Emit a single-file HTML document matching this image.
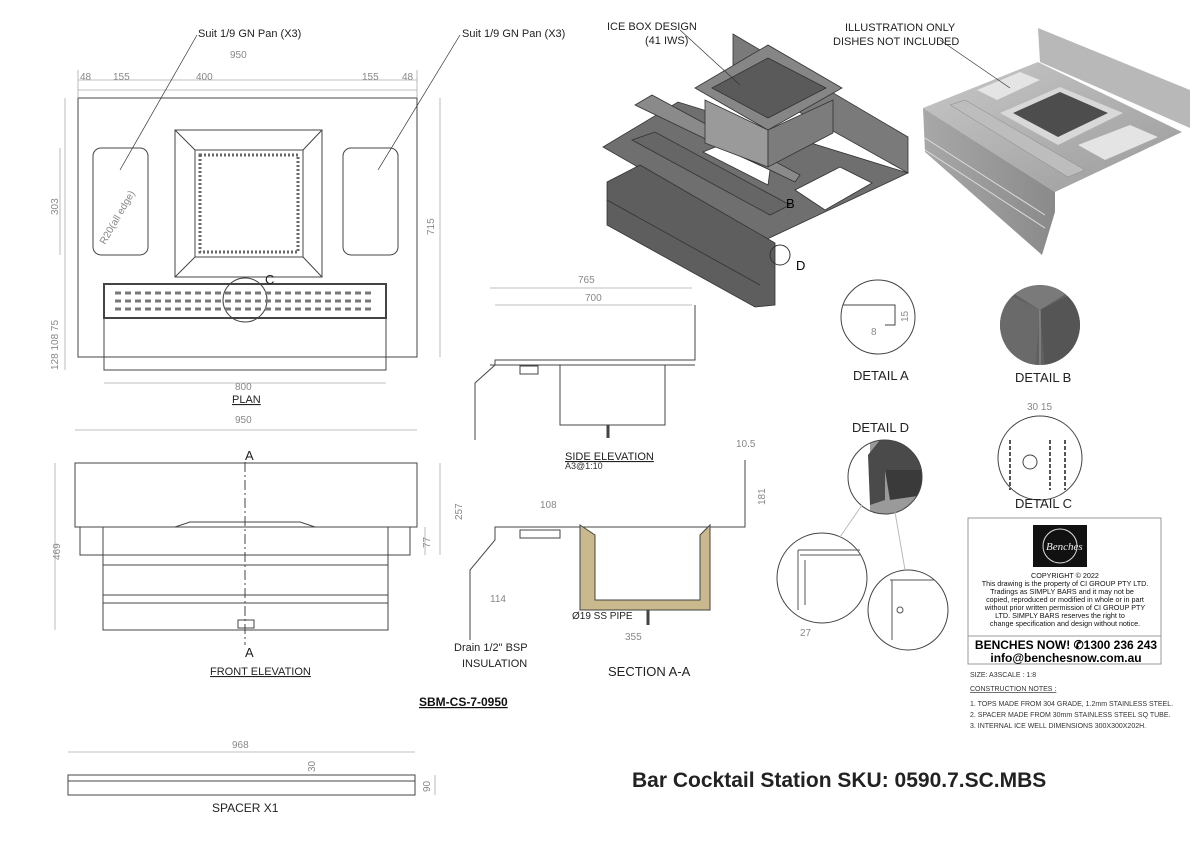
<!DOCTYPE html>
<html><head><meta charset="utf-8"><style>
body{margin:0;background:#fff}
svg{display:block;font-family:"Liberation Sans",sans-serif}
.d{fill:#888;font-size:10px}
.l{fill:#222;font-size:11px}
</style></head><body>
<svg width="1200" height="848" viewBox="0 0 1200 848" xmlns="http://www.w3.org/2000/svg">
<defs>
<linearGradient id="ph" x1="0" y1="0" x2="1" y2="1"><stop offset="0" stop-color="#c8c8c8"/><stop offset="1" stop-color="#9a9a9a"/></linearGradient>
<linearGradient id="pf" x1="0" y1="0" x2="1" y2="0"><stop offset="0" stop-color="#a8a8a8"/><stop offset="1" stop-color="#8a8a8a"/></linearGradient>
<clipPath id="cb"><circle cx="1040" cy="325" r="40"/></clipPath>
<clipPath id="cd"><circle cx="885" cy="477" r="37"/></clipPath>
</defs>
<rect width="1200" height="848" fill="#fff"/>
<g fill="none" stroke="#444" stroke-width="1">
<rect x="78" y="98" width="339" height="259"/>
<rect x="93" y="148" width="55" height="107" rx="8"/>
<rect x="343" y="148" width="55" height="107" rx="8"/>
<rect x="175" y="130" width="147" height="147"/>
<rect x="195" y="150" width="108" height="107"/>
<line x1="175" y1="130" x2="195" y2="150"/><line x1="322" y1="130" x2="303" y2="150"/>
<line x1="175" y1="277" x2="195" y2="257"/><line x1="322" y1="277" x2="303" y2="257"/>
<rect x="104" y="284" width="282" height="34" stroke-width="2"/>
<rect x="104" y="318" width="282" height="52"/>
<circle cx="245" cy="300" r="22"/>
</g>
<rect x="200" y="155" width="98" height="97" fill="none" stroke="#666" stroke-dasharray="2 2" stroke-width="3"/>
<g stroke="#777" stroke-width="3" stroke-dasharray="6 4">
<line x1="115" y1="293" x2="375" y2="293"/><line x1="115" y1="301" x2="375" y2="301"/><line x1="115" y1="309" x2="375" y2="309"/>
</g>
<g stroke="#aaa" stroke-width="0.8" fill="none">
<line x1="78" y1="80" x2="417" y2="80"/><line x1="78" y1="90" x2="417" y2="90"/>
<line x1="78" y1="70" x2="78" y2="98"/><line x1="417" y1="70" x2="417" y2="98"/>
<line x1="104" y1="383" x2="386" y2="383"/>
<line x1="440" y1="98" x2="440" y2="357"/>
<line x1="65" y1="98" x2="65" y2="370"/>
<line x1="60" y1="148" x2="60" y2="255"/>
</g>
<g stroke="#333" stroke-width="0.7"><line x1="197" y1="35" x2="120" y2="170"/><line x1="460" y1="35" x2="378" y2="170"/></g>
<text class="d" x="230" y="58">950</text>
<text class="d" x="80" y="80">48</text><text class="d" x="113" y="80">155</text><text class="d" x="196" y="80">400</text><text class="d" x="362" y="80">155</text><text class="d" x="402" y="80">48</text>
<text class="d" x="235" y="390">800</text>
<text class="d" transform="translate(434,235) rotate(-90)">715</text>
<text class="d" transform="translate(58,215) rotate(-90)">303</text>
<text class="d" transform="translate(58,370) rotate(-90)">128 108 75</text>
<text class="d" transform="translate(105,245) rotate(-60)">R20(all edge)</text>
<text class="l" x="198" y="37">Suit 1/9 GN Pan (X3)</text>
<text class="l" x="462" y="37">Suit 1/9 GN Pan (X3)</text>
<text x="265" y="284" style="font-size:13px" fill="#222">C</text>
<text class="l" x="232" y="403" text-decoration="underline">PLAN</text>

<g fill="none" stroke="#444">
<rect x="75" y="463" width="342" height="64"/>
<rect x="80" y="527" width="330" height="28"/>
<rect x="103" y="527" width="285" height="103"/>
<line x1="103" y1="565" x2="388" y2="565"/><line x1="103" y1="595" x2="388" y2="595"/><line x1="103" y1="603" x2="388" y2="603"/>
<line x1="245" y1="462" x2="245" y2="645" stroke-dasharray="10 3 2 3"/>
<rect x="238" y="620" width="16" height="8"/>
<path d="M175,527 L190,522 L300,522 L315,527"/>
</g>
<g stroke="#aaa" stroke-width="0.8"><line x1="75" y1="430" x2="417" y2="430"/><line x1="440" y1="463" x2="440" y2="555"/><line x1="55" y1="463" x2="55" y2="630"/><line x1="425" y1="527" x2="425" y2="555"/></g>
<text class="d" x="235" y="423">950</text>
<text class="d" transform="translate(462,520) rotate(-90)">257</text>
<text class="d" transform="translate(60,560) rotate(-90)">469</text>
<text class="d" transform="translate(430,548) rotate(-90)">77</text>
<text x="245" y="460" style="font-size:13px" fill="#222">A</text>
<text x="245" y="657" style="font-size:13px" fill="#222">A</text>
<text class="l" x="210" y="675" text-decoration="underline">FRONT ELEVATION</text>
<text x="419" y="706" style="font-size:12px;font-weight:bold" fill="#111" text-decoration="underline">SBM-CS-7-0950</text>

<g fill="none" stroke="#444"><rect x="68" y="775" width="347" height="20"/><line x1="68" y1="781" x2="415" y2="781"/></g>
<g stroke="#aaa" stroke-width="0.8"><line x1="68" y1="752" x2="415" y2="752"/><line x1="435" y1="775" x2="435" y2="795"/></g>
<text class="d" x="232" y="748">968</text><text class="d" transform="translate(315,772) rotate(-90)">30</text><text class="d" transform="translate(430,792) rotate(-90)">90</text>
<text class="l" x="212" y="812" style="font-size:12px">SPACER X1</text>

<g fill="none" stroke="#444">
<polyline points="475,440 475,383 495,365 495,360 695,360 695,305"/>
<line x1="490" y1="365" x2="695" y2="365"/>
<rect x="560" y="365" width="105" height="60"/>
<line x1="608" y1="425" x2="608" y2="438" stroke-width="3"/>
<rect x="520" y="366" width="18" height="8"/>
</g>
<g stroke="#aaa" stroke-width="0.8"><line x1="490" y1="288" x2="692" y2="288"/><line x1="495" y1="305" x2="692" y2="305"/></g>
<text class="d" x="578" y="283">765</text><text class="d" x="585" y="301">700</text>
<text class="l" x="565" y="460" text-decoration="underline">SIDE ELEVATION</text>
<text class="d" x="565" y="469" style="font-size:9px;fill:#333">A3@1:10</text>

<g fill="none" stroke="#444">
<polyline points="470,640 470,570 495,540 495,527 745,527 745,460"/>
<rect x="520" y="530" width="40" height="8"/>
<line x1="648" y1="610" x2="648" y2="625" stroke-width="3"/>
</g>
<path d="M580,525 L595,535 L595,600 L700,600 L700,535 L710,525 L710,610 L580,610 Z" fill="#c9b98c" stroke="#444"/>
<text class="d" x="540" y="508">108</text><text class="d" x="490" y="602">114</text><text class="d" x="625" y="640">355</text><text class="d" x="736" y="447">10.5</text>
<text class="d" transform="translate(765,505) rotate(-90)">181</text>
<text class="l" x="572" y="619" style="font-size:10px">Ø19 SS PIPE</text>
<text class="l" x="454" y="651">Drain 1/2" BSP</text>
<text class="l" x="462" y="667">INSULATION</text>
<text class="l" x="608" y="676" style="font-size:13px">SECTION A-A</text>

<g stroke="#333" stroke-width="0.8">
<polygon points="733,34 908,137 908,173 733,75" fill="#7a7a7a"/>
<polygon points="603,147 678,102 908,173 765,240" fill="#6f6f6f"/>
<polygon points="703,152 718,146 770,170 768,185" fill="#fff"/>
<polygon points="795,190 840,167 872,183 825,210" fill="#fff"/>
<polygon points="607,182 640,165 775,243 775,305 755,307 607,225" fill="#5e5e5e"/>
<polygon points="632,140 655,132 790,205 770,215" fill="#666"/>
<line x1="607" y1="200" x2="760" y2="285"/>
<polygon points="635,105 652,95 800,175 795,182" fill="#8a8a8a"/>
<polygon points="705,143 705,100 768,130 768,167" fill="#9a9a9a"/>
<polygon points="768,130 833,100 833,133 768,167" fill="#7c7c7c"/>
<polygon points="695,88 768,45 842,88 768,130" fill="#868686"/>
<polygon points="712,88 768,58 826,88 768,118" fill="#5a5a5a"/>
</g>
<text class="l" x="607" y="30">ICE BOX DESIGN</text><text class="l" x="645" y="44">(41 IWS)</text>
<line x1="680" y1="30" x2="740" y2="85" stroke="#333" stroke-width="0.7"/>
<text x="786" y="208" style="font-size:13px">B</text><text x="796" y="270" style="font-size:13px">D</text>
<circle cx="780" cy="255" r="10" fill="none" stroke="#333"/>

<polygon points="1038,28 1190,90 1190,128 1040,62" fill="#b8b8b8"/>
<polygon points="923,108 1038,62 1182,132 1055,192" fill="url(#ph)"/>
<polygon points="923,108 1055,192 1055,212 1042,255 925,152" fill="url(#pf)"/>
<line x1="925" y1="138" x2="1045" y2="215" stroke="#ddd"/>
<line x1="925" y1="150" x2="1045" y2="228" stroke="#ddd"/>
<polygon points="1000,113 1060,87 1123,113 1058,145" fill="#d8d8d8"/>
<polygon points="1013,113 1060,92 1108,113 1058,137" fill="#4d4d4d"/>
<polygon points="950,105 965,100 1085,170 1068,177" fill="#bdbdbd" stroke="#888" stroke-width="0.5"/>
<polygon points="977,90 1020,72 1040,80 997,100" fill="#e4e4e4"/>
<polygon points="1078,145 1130,125 1158,137 1105,160" fill="#e4e4e4"/>
<text class="l" x="845" y="31">ILLUSTRATION ONLY</text><text class="l" x="833" y="45">DISHES NOT INCLUDED</text>
<line x1="940" y1="40" x2="1010" y2="88" stroke="#333" stroke-width="0.7"/>

<g fill="none" stroke="#444">
<circle cx="878" cy="317" r="37"/>
<polyline points="843,305 895,305 895,325 885,325"/>
<circle cx="1040" cy="458" r="42"/>
<circle cx="1030" cy="462" r="7"/>
<circle cx="822" cy="578" r="45"/>
<circle cx="908" cy="610" r="40"/>
</g>
<g clip-path="url(#cb)">
<rect x="995" y="280" width="90" height="90" fill="#606060"/>
<polygon points="1040,310 1000,290 1000,370 1035,370" fill="#6a6a6a"/>
<polygon points="1040,310 1080,290 1080,370 1045,370" fill="#555"/>
<polygon points="1040,310 1000,285 1080,285" fill="#7a7a7a"/>
<line x1="1040" y1="310" x2="1040" y2="370" stroke="#999"/>
</g>
<g clip-path="url(#cd)">
<rect x="845" y="437" width="80" height="80" fill="#fff"/>
<rect x="870" y="437" width="60" height="80" fill="#9a9a9a"/>
<polygon points="868,455 880,440 925,440 925,470 885,470 885,500 870,505" fill="#4a4a4a"/>
<polygon points="885,470 925,470 925,495 890,500" fill="#3a3a3a"/>
</g>
<circle cx="885" cy="477" r="37" fill="none" stroke="#444"/>
<g stroke="#bbb"><line x1="862" y1="505" x2="840" y2="537"/><line x1="895" y1="512" x2="905" y2="570"/></g>
<g stroke="#555" stroke-width="2" stroke-dasharray="4 2"><line x1="1010" y1="440" x2="1010" y2="490"/><line x1="1050" y1="440" x2="1050" y2="490"/><line x1="1065" y1="440" x2="1065" y2="490"/></g>
<g fill="none" stroke="#555"><polyline points="798,550 860,550"/><polyline points="800,555 860,555"/><line x1="798" y1="550" x2="798" y2="610"/><line x1="805" y1="560" x2="805" y2="605"/><polyline points="890,580 935,580"/><line x1="892" y1="580" x2="892" y2="640"/><circle cx="900" cy="610" r="3"/></g>
<text class="l" x="853" y="380" style="font-size:13px">DETAIL A</text>
<text class="l" x="1015" y="382" style="font-size:13px">DETAIL B</text>
<text class="l" x="852" y="432" style="font-size:13px">DETAIL D</text>
<text class="l" x="1015" y="508" style="font-size:13px">DETAIL C</text>
<text class="d" x="1027" y="410">30 15</text>
<text class="d" x="871" y="335">8</text><text class="d" transform="translate(908,322) rotate(-90)">15</text>
<text class="d" x="800" y="636">27</text>

<rect x="968" y="518" width="193" height="146" fill="none" stroke="#999"/>
<line x1="968" y1="636" x2="1161" y2="636" stroke="#999"/>
<rect x="1033" y="525" width="54" height="42" fill="#111"/>
<circle cx="1060" cy="546" r="17" fill="none" stroke="#ddd"/>
<text x="1046" y="550" fill="#eee" style="font-family:'Liberation Serif',serif;font-style:italic;font-size:11px">Benches</text>
<g font-size="7.2" fill="#111" text-anchor="middle">
<text x="1065" y="578">COPYRIGHT © 2022</text>
<text x="1065" y="586">This drawing is the property of CI GROUP PTY LTD.</text>
<text x="1062" y="594">Tradings as SIMPLY BARS and it may not be</text>
<text x="1065" y="602">copied, reproduced or modified in whole or in part</text>
<text x="1065" y="610">without prior written permission of CI GROUP PTY</text>
<text x="1060" y="618">LTD. SIMPLY BARS reserves the right to</text>
<text x="1065" y="626">change specification and design without notice.</text>
</g>
<text x="1066" y="649" text-anchor="middle" style="font-size:12px;font-weight:bold">BENCHES NOW!  ✆1300 236 243</text>
<text x="1066" y="662" text-anchor="middle" style="font-size:12px;font-weight:bold">info@benchesnow.com.au</text>
<g font-size="7" fill="#333">
<text x="970" y="677">SIZE: A3SCALE : 1:8</text>
<text x="970" y="691" text-decoration="underline">CONSTRUCTION NOTES :</text>
<text x="970" y="706">1. TOPS MADE FROM 304 GRADE, 1.2mm STAINLESS STEEL.</text>
<text x="970" y="717">2. SPACER MADE FROM 30mm STAINLESS STEEL SQ TUBE.</text>
<text x="970" y="728">3. INTERNAL ICE WELL DIMENSIONS 300X300X202H.</text>
</g>
<text x="632" y="787" style="font-size:21px;font-weight:bold" fill="#222">Bar Cocktail Station SKU: 0590.7.SC.MBS</text>
</svg>
</body></html>
